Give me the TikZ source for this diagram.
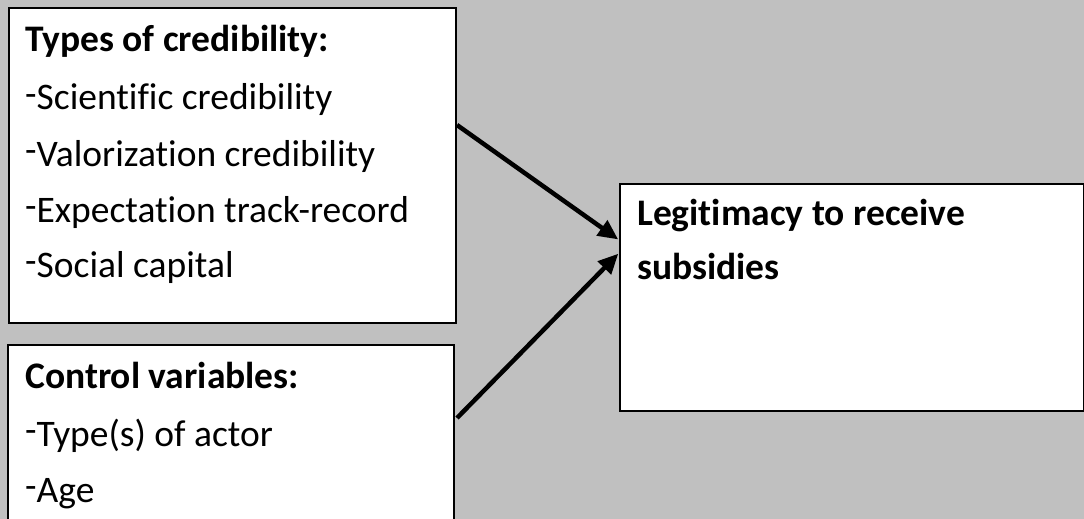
\documentclass[tikz,border=0pt]{standalone}
\usepackage{fontspec}
\setmainfont[Ligatures={NoCommon}]{Carlito}
\usetikzlibrary{arrows.meta,calc}
\definecolor{bggray}{HTML}{C0C0C0}
\newcommand{\hyb}{\raisebox{4pt}{-}}
\begin{document}
\begin{tikzpicture}[x=1pt,y=-1pt,
  box/.style={draw=black,line width=2pt,fill=white,rectangle,inner sep=0pt,anchor=north west},
  txt/.style={anchor=base west,inner sep=0pt,font=\fontsize{37.5}{45}\selectfont},
  bold/.style={txt,font=\fontsize{37.5}{45}\selectfont\bfseries},
  link/.style={line width=4.5pt,-{Triangle[length=20pt,width=18pt]},shorten >=1pt}]
\fill[bggray] (0,0) rectangle (1084,519);
\useasboundingbox (0,0) rectangle (1084,519);
% boxes
\node[box,minimum width=447pt,minimum height=315pt] (b1) at (8,7) {};
\node[box,minimum width=446pt,minimum height=200pt] (b2) at (7,344) {};
\node[box,minimum width=464pt,minimum height=227pt] (b3) at (619,183) {};
% texts box 1
\node[bold] (t11) at (25,52) {Types of credibility:};
\node[txt] (t12) at (25,110) {\hyb Scientific credibility};
\node[txt] (t13) at (25,166) {\hyb Valorization credibility};
\node[txt] (t14) at (25,222) {\hyb Expectation track-record};
\node[txt] (t15) at (25,277) {\hyb Social capital};
% texts box 2
\node[bold] (t21) at (25,388) {Control variables:};
\node[txt] (t22) at (25,446) {\hyb Type(s) of actor};
\node[txt] (t23) at (25,502) {\hyb Age};
% texts box 3
\node[bold] (t31) at (637,225) {Legitimacy to receive};
\node[bold] (t32) at (637,279) {subsidies};
% connectors
\coordinate (s1) at ($(b1.north east)+(0,118)$);
\coordinate (s2) at ($(b2.north east)+(2,74)$);
\coordinate (e1) at ($(b3.north west)+(0,57)$);
\coordinate (e2) at ($(b3.north west)+(0,70)$);
\draw[link] (s1) -- (e1);
\draw[link] (s2) -- (e2);
\end{tikzpicture}
\end{document}
